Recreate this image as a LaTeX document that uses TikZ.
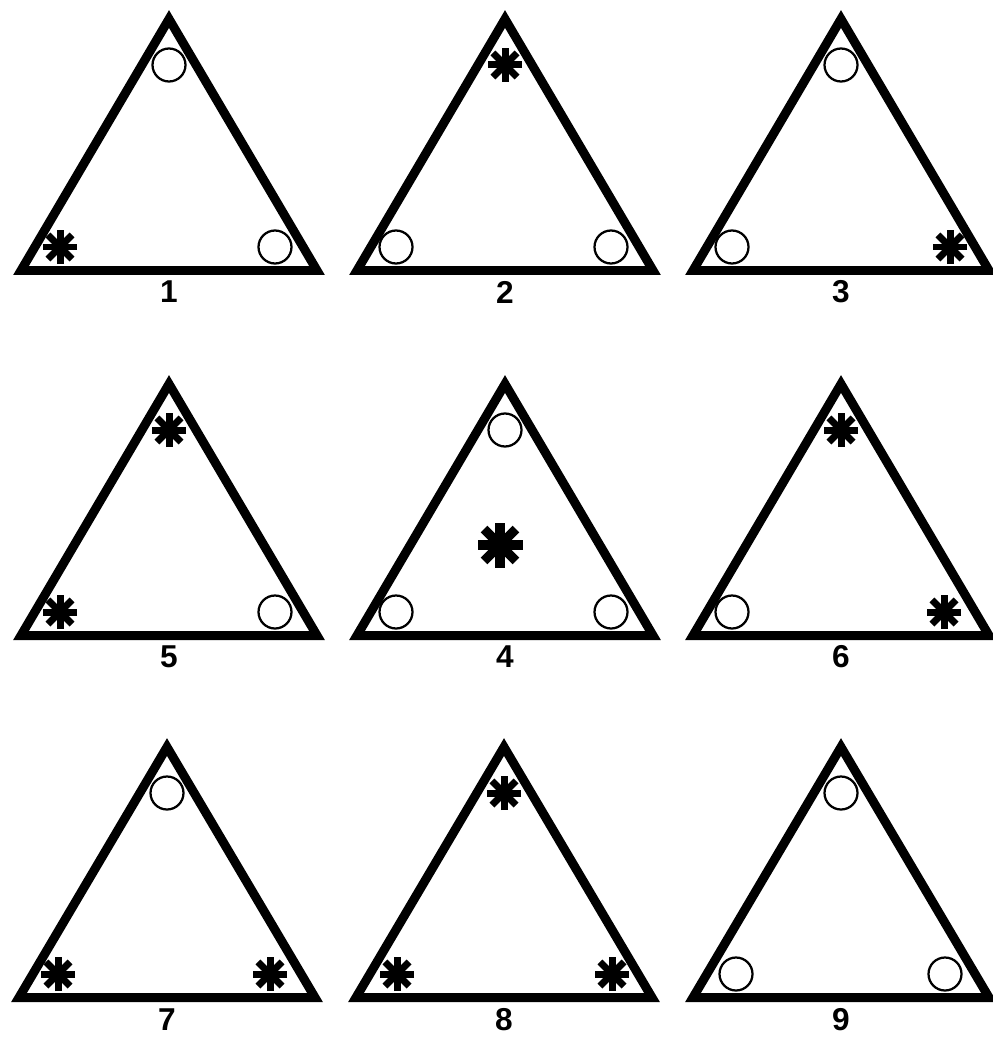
\documentclass[tikz,border=0pt]{standalone}
\usepackage{fontspec}
\setmainfont{Liberation Sans}
\usetikzlibrary{calc}

% small marks: open ring and eight-armed burst
\newcommand{\ringat}[2]{\draw[ring] (#1,#2) circle[radius=16.5];}
\newcommand{\burstat}[4]{%
  \foreach \ang in {0,45,90,135}
    \draw[line width=#4] ($(#1,#2)+(\ang:#3)$) -- ($(#1,#2)+(\ang+180:#3)$);}

\begin{document}
\begin{tikzpicture}[x=0.02cm,y=-0.02cm,
    frame/.style={line width=0.18cm,line join=miter},
    ring/.style={line width=0.045cm},
    num/.style={inner sep=0pt,font=\fontsize{18}{20}\selectfont\bfseries}]
  \useasboundingbox (0,0) rectangle (993,1037);

  % Triangles and their numbers
  \foreach \cx/\top/\bot/\ly/\n in {169/10/275/292/1, 505/10/275/292/2, 841/10/275/292/3,
      169/375/640/657/5, 505/375/640/657/4, 841/375/640/657/6,
      167/738/1002/1020/7, 504/738/1002/1020/8, 841/738/1002/1020/9}
  {
    \draw[frame] (\cx,\top+9) -- (\cx+148,\bot-4.5) -- (\cx-148,\bot-4.5) -- cycle;
    \node[num] (lab\n) at (\cx,\ly) {\n};
  }

  % Row 1
  \ringat{169}{65} \burstat{60}{247}{17}{0.14cm} \ringat{275}{247}
  \burstat{505}{65}{17}{0.14cm} \ringat{396}{247} \ringat{611}{247}
  \ringat{841}{65} \ringat{732}{247} \burstat{950}{247}{17}{0.14cm}

  % Row 2
  \burstat{169}{430}{17}{0.14cm} \burstat{60}{612}{17}{0.14cm} \ringat{275}{612}
  \ringat{505}{430} \burstat{500}{545}{22.5}{0.19cm} \ringat{396}{612} \ringat{611}{612}
  \burstat{841}{430}{17}{0.14cm} \ringat{732}{612} \burstat{944}{612}{17}{0.14cm}

  % Row 3
  \ringat{167}{793} \burstat{58}{974}{17}{0.14cm} \burstat{270}{974}{17}{0.14cm}
  \burstat{504}{793}{17}{0.14cm} \burstat{397}{974}{17}{0.14cm} \burstat{612}{974}{17}{0.14cm}
  \ringat{841}{793} \ringat{736}{974} \ringat{945}{974}
\end{tikzpicture}
\end{document}
